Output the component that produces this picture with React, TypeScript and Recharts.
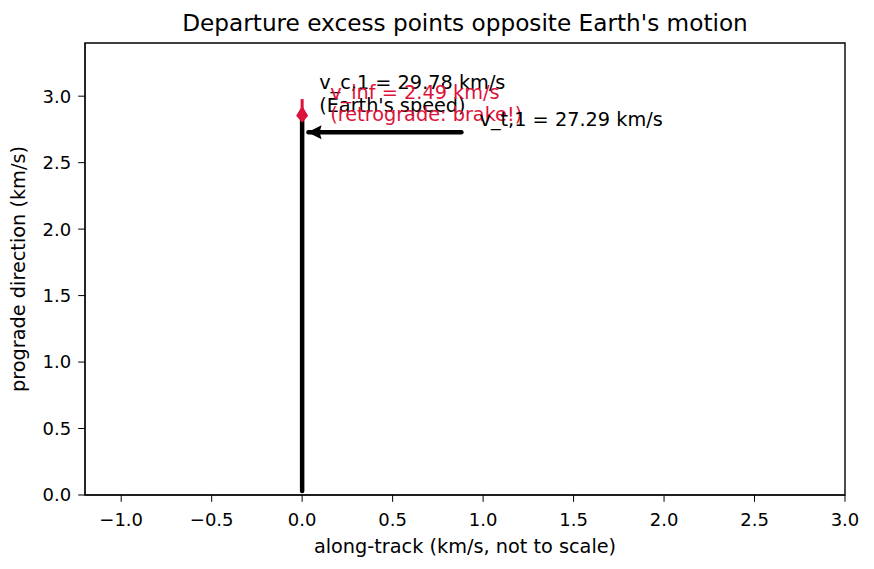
import { ComposedChart, Line, XAxis, YAxis, ReferenceArea, ReferenceDot } from 'recharts';

const FONT = '"DejaVu Sans", sans-serif';
const RED = '#dc143c';

const X_TICKS = [-1.0, -0.5, 0.0, 0.5, 1.0, 1.5, 2.0, 2.5, 3.0];
const Y_TICKS = [0.0, 0.5, 1.0, 1.5, 2.0, 2.5, 3.0];

// speeds in km/s, plotted at 0.1 unit per km/s
const V_C1 = 29.78;
const V_INF = 2.49;
const V_T1 = 27.29;
const SCALE = 0.1;

// arrow shafts
const earthArrow = [{ x: 0, y: 0.03 }, { x: 0, y: 2.85 }];
const excessArrow = [{ x: 0, y: V_C1 * SCALE }, { x: 0, y: 2.87 }];
const departureArrow = [{ x: 0.88, y: V_T1 * SCALE }, { x: 0.035, y: V_T1 * SCALE }];

const earthLines = [`v_c,1 = ${V_C1.toFixed(2)} km/s`, "(Earth's speed)"];
const excessLines = [`v_inf = ${V_INF.toFixed(2)} km/s`, '(retrograde: brake!)'];
const departureLines = [`v_t,1 = ${V_T1.toFixed(2)} km/s`];

const fmt = (v: number) => (v < 0 ? '\u2212' + Math.abs(v).toFixed(1) : v.toFixed(1));

// multi-line annotation anchored at first baseline
const note = (lines: string[], color: string) => (props: any) => (
  <text x={props.cx} y={props.cy} fill={color} fontSize={19.3} fontFamily={FONT}>
    {lines.map((l, i) => (
      <tspan key={i} x={props.cx} dy={i === 0 ? 0 : 22.4}>{l}</tspan>
    ))}
  </text>
);

const leftHead = (props: any) => {
  const { cx, cy } = props;
  return <polygon points={`${cx},${cy} ${cx + 14},${cy - 7} ${cx + 12},${cy} ${cx + 14},${cy + 7}`} fill="#000" />;
};

const kiteHead = (props: any) => {
  const { cx, cy } = props;
  return <polygon points={`${cx},${cy - 10} ${cx + 6},${cy} ${cx},${cy + 7} ${cx - 6},${cy}`} fill={RED} />;
};

export default function App() {
  return (
    <div style={{ position: 'absolute', left: 0, top: 0, width: 874, height: 569, background: '#fff' }}>
      <ComposedChart width={874} height={569} margin={{ top: 43, right: 29, bottom: 34, left: 25 }}>
        <XAxis
          type="number"
          dataKey="x"
          domain={[-1.2, 3.0]}
          ticks={X_TICKS}
          interval={0}
          allowDataOverflow
          tickFormatter={fmt}
          height={40}
          tickSize={6.8}
          tickMargin={11}
          stroke="#000"
          tick={{ fill: '#000', fontSize: 18, fontFamily: FONT }}
        />
        <YAxis
          type="number"
          domain={[0, 3.4]}
          ticks={Y_TICKS}
          interval={0}
          allowDataOverflow
          tickFormatter={fmt}
          width={60}
          tickSize={6.8}
          tickMargin={7}
          stroke="#000"
          tick={{ fill: '#000', fontSize: 18, fontFamily: FONT }}
        />
        <ReferenceArea x1={-1.2} x2={3.0} y1={0} y2={3.4} fill="none" stroke="#000" strokeWidth={1.4} />
        <Line data={earthArrow} dataKey="y" stroke="#000" strokeWidth={4.5} dot={false} isAnimationActive={false} strokeLinecap="round" />
        <Line data={departureArrow} dataKey="y" stroke="#000" strokeWidth={4.5} dot={false} isAnimationActive={false} strokeLinecap="round" />
        <Line data={excessArrow} dataKey="y" stroke={RED} strokeWidth={3} dot={false} isAnimationActive={false} />
        <ReferenceDot x={0.03} y={V_T1 * SCALE} shape={leftHead} />
        <ReferenceDot x={0} y={2.853} shape={kiteHead} />
        <ReferenceDot x={0.094} y={3.053} shape={note(earthLines, '#000')} />
        <ReferenceDot x={0.155} y={2.98} shape={note(excessLines, RED)} />
        <ReferenceDot x={0.98} y={2.778} shape={note(departureLines, '#000')} />
      </ComposedChart>
      <svg width={874} height={569} style={{ position: 'absolute', left: 0, top: 0, pointerEvents: 'none' }}>
        <text x={465} y={31} textAnchor="middle" fontSize={23.2} fontFamily={FONT} fill="#000">
          Departure excess points opposite Earth's motion
        </text>
        <text x={465} y={553} textAnchor="middle" fontSize={19.3} fontFamily={FONT} fill="#000">
          along-track (km/s, not to scale)
        </text>
        <text x={25} y={269} transform="rotate(-90 25 269)" textAnchor="middle" fontSize={19.3} fontFamily={FONT} fill="#000">
          prograde direction (km/s)
        </text>
      </svg>
    </div>
  );
}
